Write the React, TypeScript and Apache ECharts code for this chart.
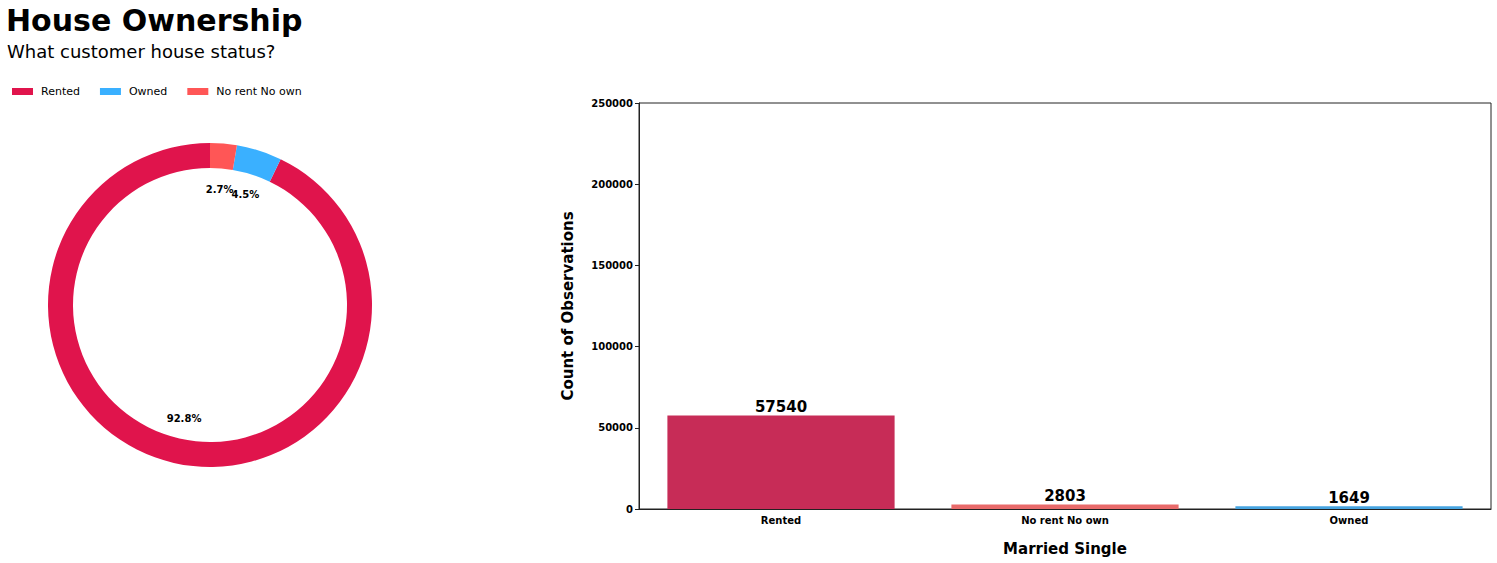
import React, { useEffect, useRef } from "react";
import * as echarts from "echarts";

const pieNames = ["Rented", "Owned", "No rent No own"];
const pieValues = [57540, 2803, 1649];
const pieColors = ["#E0144C", "#3AB0FF", "#FF5656"];

const barCategories = ["Rented", "No rent No own", "Owned"];
const barValues = [57540, 2803, 1649];
const barColors = ["#C72C57", "#E86A6A", "#47A4E0"];
const yTicks = [0, 50000, 100000, 150000, 200000, 250000];

const FONT = "DejaVu Sans";

export default function App() {
  const ref = useRef<HTMLDivElement>(null);
  useEffect(() => {
    const chart = echarts.init(ref.current!, null, { renderer: "svg" });
    const pieData = pieNames.map((n, i) => ({ name: n, value: pieValues[i], itemStyle: { color: pieColors[i] } }));
    chart.setOption({
      animation: false,
      textStyle: { fontFamily: FONT },
      title: [
        { text: "House Ownership", left: 6, top: 5, padding: 0, textStyle: { fontFamily: FONT, fontSize: 30, fontWeight: "bold", color: "#000" } },
        { text: "What customer house status?", left: 7, top: 42, padding: 0, textStyle: { fontFamily: FONT, fontSize: 18, fontWeight: "normal", color: "#000" } },
      ],
      legend: {
        left: 12,
        top: 86,
        padding: 0,
        itemWidth: 21,
        itemHeight: 7,
        itemGap: 20,
        icon: "rect",
        textStyle: { fontFamily: FONT, fontSize: 11, color: "#000", padding: [0, 0, 0, 3] },
        data: pieNames,
      },
      grid: { left: 639, top: 103, width: 852, height: 406, show: true, borderColor: "#222", borderWidth: 1 },
      xAxis: {
        type: "category",
        data: barCategories,
        name: "Married Single",
        nameLocation: "middle",
        nameGap: 32,
        nameTextStyle: { fontFamily: FONT, fontSize: 15, fontWeight: "bold", color: "#000" },
        axisLine: { lineStyle: { color: "#222" } },
        axisTick: { alignWithLabel: true, length: 4, lineStyle: { color: "#222" } },
        axisLabel: { fontFamily: FONT, fontSize: 10, fontWeight: "bold", color: "#000", margin: 6 },
      },
      yAxis: {
        type: "value",
        min: yTicks[0],
        max: yTicks[yTicks.length - 1],
        interval: 50000,
        name: "Count of Observations",
        nameLocation: "middle",
        nameGap: 64,
        nameTextStyle: { fontFamily: FONT, fontSize: 15, fontWeight: "bold", color: "#000" },
        splitLine: { show: false },
        axisLine: { show: true, lineStyle: { color: "#222" } },
        axisTick: { show: true, length: 4, lineStyle: { color: "#222" } },
        axisLabel: { fontFamily: FONT, fontSize: 10, fontWeight: "bold", color: "#000", margin: 6, formatter: (v: number) => String(v) },
      },
      series: [
        {
          type: "pie",
          name: "ring",
          center: [210, 305],
          radius: [137, 162],
          startAngle: 90,
          clockwise: false,
          percentPrecision: 1,
          label: { show: false },
          labelLine: { show: false },
          emphasis: { disabled: true },
          data: pieData,
        },
        {
          type: "pie",
          name: "labels",
          center: [210, 305],
          radius: [100, 126],
          startAngle: 90,
          clockwise: false,
          percentPrecision: 1,
          avoidLabelOverlap: false,
          silent: true,
          legendHoverLink: false,
          itemStyle: { color: "rgba(0,0,0,0)" },
          labelLayout: { hideOverlap: false },
          label: {
            show: true,
            position: "inside",
            formatter: "{d}%",
            fontFamily: FONT,
            fontSize: 10,
            fontWeight: "bold",
            color: "#000",
          },
          labelLine: { show: false },
          emphasis: { disabled: true },
          data: pieNames.map((n, i) => ({ name: n + " ", value: pieValues[i], itemStyle: { color: "rgba(0,0,0,0)" } })),
        },
        {
          type: "bar",
          barWidth: "80%",
          data: barValues.map((v, i) => ({ value: v, itemStyle: { color: barColors[i] } })),
          label: {
            show: true,
            position: "top",
            distance: 1,
            fontFamily: FONT,
            fontSize: 15,
            fontWeight: "bold",
            color: "#000",
          },
        },
      ],
    });
    return () => chart.dispose();
  }, []);
  return <div ref={ref} style={{ position: "fixed", left: 0, top: 0, width: 1497, height: 563, background: "#fff" }} />;
}
